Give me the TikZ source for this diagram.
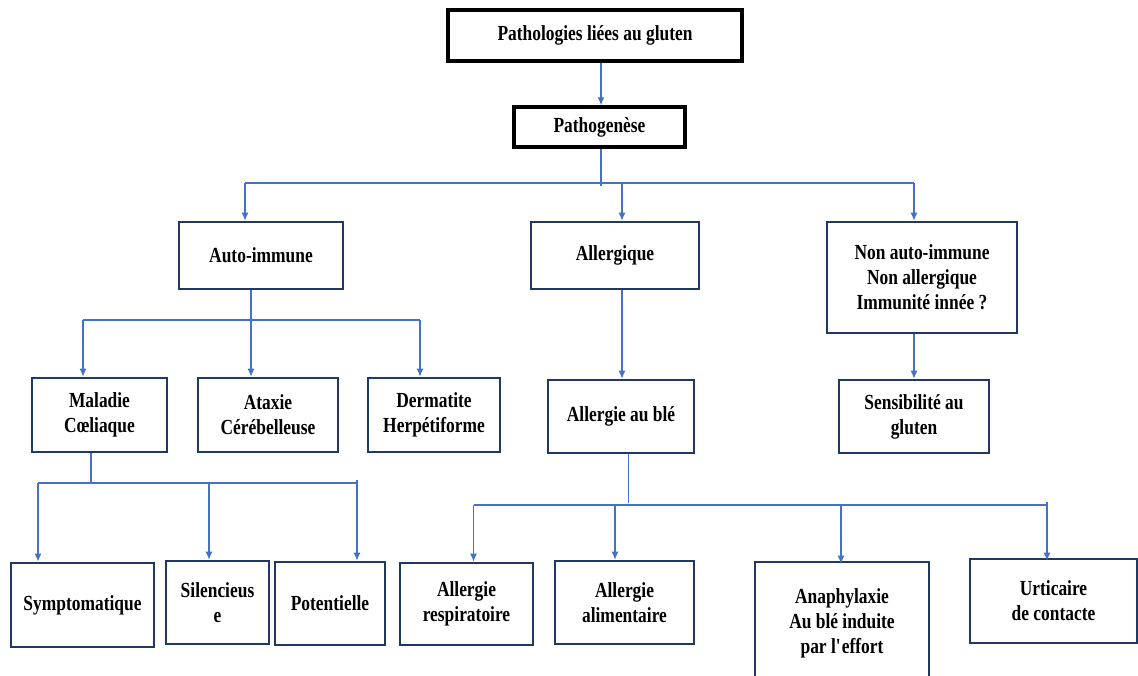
\documentclass[tikz,border=0pt]{standalone}
\usepackage{fontspec}
\setmainfont{Liberation Serif}[FakeStretch=0.81]
\usetikzlibrary{arrows.meta}
\definecolor{navy}{HTML}{1F3864}
\definecolor{linkblue}{HTML}{4472C4}
\begin{document}
\begin{tikzpicture}[x=1pt, y=-1pt,
        box/.style={draw=navy, line width=2.6pt, fill=white, align=center, inner sep=0pt,
            font=\bfseries\fontsize{21.5}{25}\selectfont},
        topbox/.style={box, draw=black, line width=3.4pt},
        link/.style={draw=linkblue, line width=1.3pt},
        arr/.style={link, -{Latex[length=8pt, width=7pt]}}]
                \fill[white] (0, 0) rectangle (1138, 675);
                \useasboundingbox (0, 0) rectangle (1138, 675);
                \clip (0, 0) rectangle (1138, 675);

                \node[topbox, minimum width=294, minimum height=51] (titre) at (595, 35.5) {Pathologies liées au gluten};
                \node[topbox, minimum width=171, minimum height=40] (patho) at (599.5, 127) {Pathogenèse};

                \node[box, minimum width=164, minimum height=67] (auto) at (261, 255.5) {Auto-immune};
                \node[box, minimum width=168, minimum height=67] (allerg) at (615, 255.5) {Allergique};
                \node[box, minimum width=190, minimum height=111] (nonauto) at (922, 277.5) {Non auto-immune\\Non allergique\\Immunité innée ?};

                \node[box, minimum width=135, minimum height=74] (maladie) at (99.5, 415) {Maladie\\Cœliaque};
                \node[box, minimum width=140, minimum height=74] (ataxie) at (268, 415) {Ataxie\\Cérébelleuse};
                \node[box, minimum width=132, minimum height=74] (dermat) at (434, 415) {Dermatite\\Herpétiforme};
                \node[box, minimum width=146, minimum height=73] (ble) at (621, 416.5) {Allergie au blé};
                \node[box, minimum width=150, minimum height=73] (sensib) at (914, 416.5) {Sensibilité au\\gluten};

                \node[box, minimum width=143, minimum height=84] (sympt) at (82.5, 605) {Symptomatique};
                \node[box, minimum width=103, minimum height=83] (silenc) at (217.5, 602.5) {Silencieus\\e};
                \node[box, minimum width=110, minimum height=83] (potent) at (330, 603.5) {Potentielle};
                \node[box, minimum width=133, minimum height=82] (respir) at (466.5, 604) {Allergie\\respiratoire};
                \node[box, minimum width=139, minimum height=83] (alim) at (624.5, 602.5) {Allergie\\alimentaire};
                \node[box, minimum width=174, minimum height=122] (anaph) at (842, 623) {Anaphylaxie\\Au blé induite\\par l\textquotesingle effort};
                \node[box, minimum width=167, minimum height=84] (urtic) at (1053.5, 601) {Urticaire\\de contacte};

                \coordinate (b1) at (601, 186);
                \coordinate (t1) at (245, 183);
                \coordinate (t2) at (622, 183);
                \coordinate (t3) at (914, 183);
                \draw[arr] (b1 |- titre.south) -- (b1 |- patho.north);
                \draw[link] (b1 |- patho.south) -- (b1);
                \draw[link] (t1) -- (t3);
                \draw[arr] (t1) -- (t1 |- auto.north);
                \draw[arr] (t2) -- (t2 |- allerg.north);
                \draw[arr] (t3) -- (t3 |- nonauto.north);

                \coordinate (t4) at (83, 320);
                \coordinate (t5) at (251, 320);
                \coordinate (t6) at (420, 320);
                \draw[link] (t5 |- auto.south) -- (t5);
                \draw[link] (t4) -- (t6);
                \draw[arr] (t4) -- (t4 |- maladie.north);
                \draw[arr] (t5) -- (t5 |- ataxie.north);
                \draw[arr] (t6) -- (t6 |- dermat.north);

                \draw[arr] (t2 |- allerg.south) -- (t2 |- ble.north);
                \draw[arr] (t3 |- nonauto.south) -- (t3 |- sensib.north);

                \coordinate (b2) at (91, 483);
                \coordinate (t7) at (38, 483);
                \coordinate (t8) at (209, 483);
                \coordinate (t9) at (357, 483);
                \draw[link] (b2 |- maladie.south) -- (b2);
                \draw[link] (t7) -- (t9);
                \draw[link] (t9) -- ++(0, -3);
                \draw[arr] (t7) -- (t7 |- sympt.north);
                \draw[arr] (t8) -- (t8 |- silenc.north);
                \draw[arr] (t9) -- (t9 |- potent.north);

                \coordinate (b3) at (628.5, 503);
                \coordinate (t10) at (473.5, 505);
                \coordinate (t11) at (615, 505);
                \coordinate (t12) at (841, 505);
                \coordinate (t13) at (1047, 505);
                \draw[link] (b3 |- ble.south) -- (b3);
                \draw[link] (t10) -- (t13);
                \draw[link] (t13) -- ++(0, -3);
                \draw[arr] (t10) -- (t10 |- respir.north);
                \draw[arr] (t11) -- (t11 |- alim.north);
                \draw[arr] (t12) -- ([yshift=-3pt]t12 |- anaph.north);
                \draw[arr] (t13) -- ([yshift=-3pt]t13 |- urtic.north);
            \end{tikzpicture}
\end{document}
